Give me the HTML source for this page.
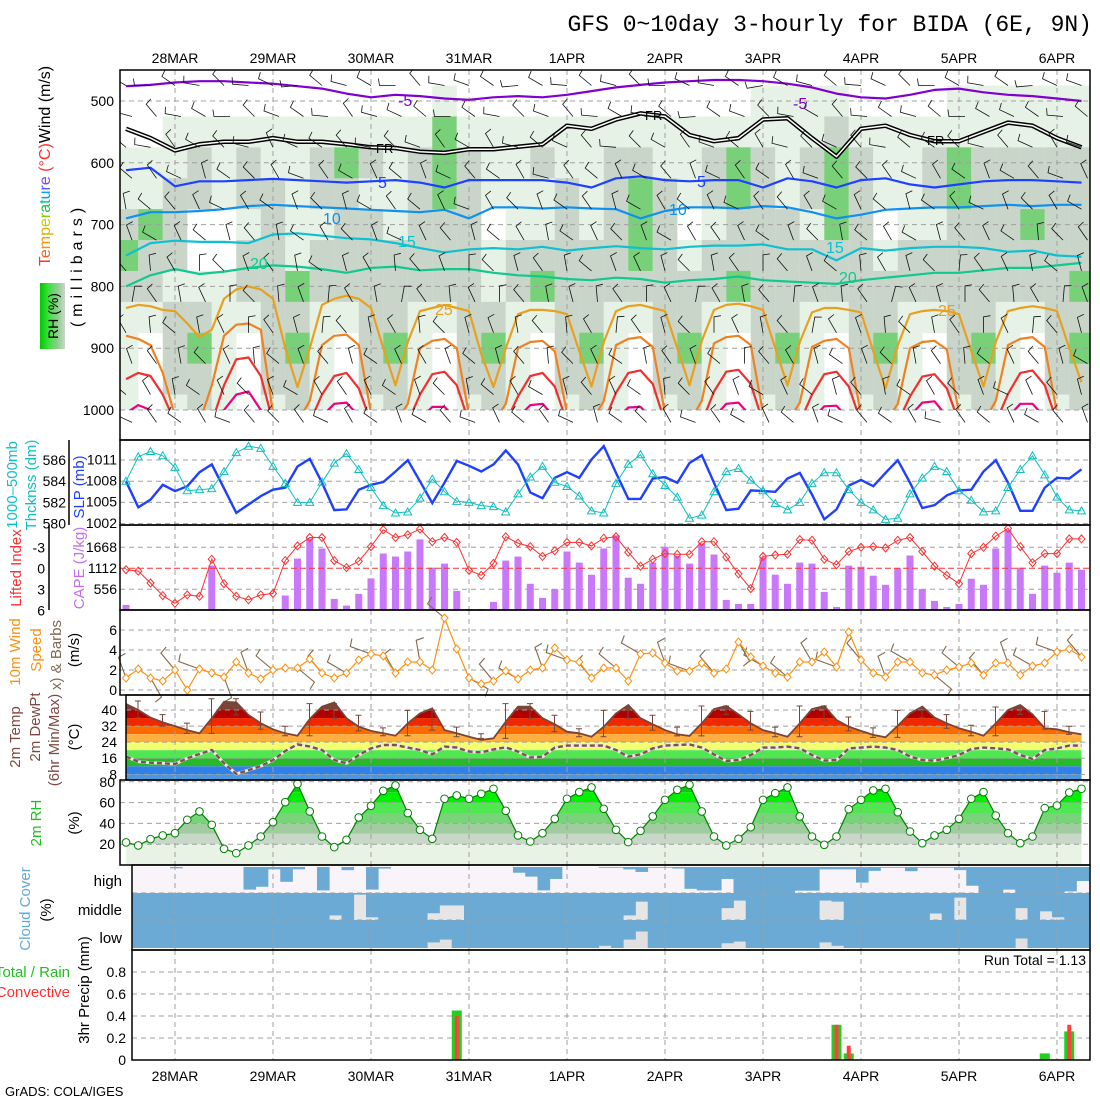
<!DOCTYPE html>
<html><head><meta charset="utf-8"><title>GFS meteogram BIDA</title>
<style>
html,body{margin:0;padding:0;background:#fff;}
svg{display:block;font-family:"Liberation Sans",sans-serif;}
</style></head>
<body>
<svg id="chart" xmlns="http://www.w3.org/2000/svg" width="1100" height="1100" viewBox="0 0 1100 1100">
<rect x="0" y="0" width="1100" height="1100" fill="#ffffff"/>
<defs>
<clipPath id="clipMain"><rect x="120" y="70" width="970" height="340"/></clipPath>
<clipPath id="clipMainAll"><rect x="120" y="70" width="970" height="370"/></clipPath>
<clipPath id="clipTemp"><polygon id="tempClipPoly" points=""/></clipPath>
<clipPath id="clipRH"><polygon id="rhClipPoly" points=""/></clipPath>
<clipPath id="clipCloud"><rect x="132" y="865" width="958" height="85"/></clipPath>
<linearGradient id="rhLegendGrad" x1="0" x2="1" y1="0" y2="0">
<stop offset="0" stop-color="#00c800"/><stop offset="0.35" stop-color="#40e040"/><stop offset="0.7" stop-color="#90cc90"/><stop offset="1" stop-color="#c8d8c8"/>
</linearGradient>
</defs>

<text x="1092" y="31" text-anchor="end" font-family="Liberation Mono, monospace" font-size="23" fill="#000">GFS 0~10day 3-hourly for BIDA (6E, 9N)</text>

<g id="topDates" font-size="14" fill="#000" text-anchor="middle"></g>
<g id="bottomDates" font-size="14" fill="#000" text-anchor="middle"></g>

<g id="rhField" clip-path="url(#clipMain)"></g>
<g id="mainGrid"></g>
<g id="isotherms" clip-path="url(#clipMain)"></g>
<g id="mainBarbs" clip-path="url(#clipMainAll)"></g>
<g id="isoLabels" font-size="16">
<text x="398" y="106" fill="#8000d0">-5</text>
<text x="793" y="109" fill="#8000d0">-5</text>
<text x="376" y="153" fill="#000" font-size="13">FR</text>
<text x="645" y="120" fill="#000" font-size="13">FR</text>
<text x="927" y="145" fill="#000" font-size="13">FR</text>
<text x="378" y="188" fill="#2040ff">5</text>
<text x="697" y="187" fill="#2040ff">5</text>
<text x="323" y="224" fill="#1090f0">10</text>
<text x="669" y="215" fill="#1090f0">10</text>
<text x="398" y="247" fill="#10c0d0">15</text>
<text x="826" y="253" fill="#10c0d0">15</text>
<text x="250" y="269" fill="#10c890">20</text>
<text x="839" y="283" fill="#10c890">20</text>
<text x="435" y="315" fill="#e8a020">25</text>
<text x="938" y="316" fill="#e8a020">25</text>
</g>

<g id="panels"></g>
<g id="frames" fill="none" stroke="#000" stroke-width="1.5"></g>

<g font-size="14" fill="#000" text-anchor="end" id="leftTicks"></g>

<text transform="rotate(-90 50 166)" x="50" y="166" text-anchor="middle" font-size="16"><tspan fill="#ff3030">T</tspan><tspan fill="#ff6020">e</tspan><tspan fill="#ff9000">m</tspan><tspan fill="#e0b000">p</tspan><tspan fill="#c0d000">e</tspan><tspan fill="#80d000">r</tspan><tspan fill="#20c040">a</tspan><tspan fill="#00c0a0">t</tspan><tspan fill="#00a0ff">u</tspan><tspan fill="#4060ff">r</tspan><tspan fill="#8040ff">e</tspan><tspan fill="#ff3030"> (°C)</tspan><tspan fill="#000">Wind (m/s)</tspan></text>
<text transform="rotate(-90 82 265)" x="82" y="265" text-anchor="middle" font-size="16" letter-spacing="5" fill="#000">(millibars)</text>
<rect x="40" y="283" width="25" height="66" fill="url(#rhLegendGrad)"/>
<text transform="rotate(-90 58 316)" x="58" y="316" text-anchor="middle" font-size="14" fill="#000">RH (%)</text>

<text transform="rotate(-90 17 485)" x="17" y="485" text-anchor="middle" font-size="15" fill="#10c0c0">1000–500mb</text>
<text transform="rotate(-90 36 485)" x="36" y="485" text-anchor="middle" font-size="15" fill="#10c0c0">Thcknss (dm)</text>
<text transform="rotate(-90 84 487)" x="84" y="487" text-anchor="middle" font-size="15" fill="#2040ff">SLP (mb)</text>
<text transform="rotate(-90 21 568)" x="21" y="568" text-anchor="middle" font-size="15" fill="#ff3030">Lifted Index</text>
<text transform="rotate(-90 84 568)" x="84" y="568" text-anchor="middle" font-size="15" fill="#c070f0">CAPE (J/kg)</text>
<text transform="rotate(-90 20 652)" x="20" y="652" text-anchor="middle" font-size="15" fill="#ff9010">10m Wind</text>
<text transform="rotate(-90 41 650)" x="41" y="650" text-anchor="middle" font-size="15" fill="#ff9010">Speed</text>
<text transform="rotate(-90 61 655)" x="61" y="655" text-anchor="middle" font-size="15" fill="#806850">x) &amp; Barbs</text>
<text transform="rotate(-90 79 650)" x="79" y="650" text-anchor="middle" font-size="15" fill="#000">(m/s)</text>
<text transform="rotate(-90 20 737)" x="20" y="737" text-anchor="middle" font-size="15" fill="#804840">2m Temp</text>
<text transform="rotate(-90 40 727)" x="40" y="727" text-anchor="middle" font-size="15" fill="#804840">2m DewPt</text>
<text transform="rotate(-90 59 740)" x="59" y="740" text-anchor="middle" font-size="15" fill="#804840">(6hr Min/Max)</text>
<text transform="rotate(-90 79 737)" x="79" y="737" text-anchor="middle" font-size="15" fill="#000">(°C)</text>
<text transform="rotate(-90 41 823)" x="41" y="823" text-anchor="middle" font-size="15" fill="#20c020">2m RH</text>
<text transform="rotate(-90 79 823)" x="79" y="823" text-anchor="middle" font-size="15" fill="#000">(%)</text>
<text transform="rotate(-90 30 909)" x="30" y="909" text-anchor="middle" font-size="15" fill="#60a8d8">Cloud Cover</text>
<text transform="rotate(-90 51 910)" x="51" y="910" text-anchor="middle" font-size="15" fill="#000">(%)</text>
<text x="122" y="886" text-anchor="end" font-size="15" fill="#000">high</text>
<text x="122" y="915" text-anchor="end" font-size="15" fill="#000">middle</text>
<text x="122" y="943" text-anchor="end" font-size="15" fill="#000">low</text>
<text transform="rotate(-90 89 990)" x="89" y="990" text-anchor="middle" font-size="15" fill="#000">3hr Precip (mm)</text>
<text x="70" y="977" text-anchor="end" font-size="15" fill="#20c020">Total / Rain</text>
<text x="70" y="997" text-anchor="end" font-size="15" fill="#ff3030">Convective</text>
<text x="1086" y="965" text-anchor="end" font-size="14" fill="#000">Run Total = 1.13</text>
<text x="5" y="1096" font-size="13" fill="#000">GrADS: COLA/IGES</text>
</svg>

<script>
const dayLabels = ["28MAR","29MAR","30MAR","31MAR","1APR","2APR","3APR","4APR","5APR","6APR"];
const thickness = [584.0,586.3,586.8,586.4,585.3,583.1,583.2,583.3,584.9,586.7,
587.3,587.1,585.4,583.8,582.0,582.0,583.9,585.7,586.6,585.1,
583.4,581.7,581.0,581.1,582.4,584.2,583.0,582.1,582.0,581.7,
581.6,581.1,582.8,584.4,585.4,583.9,583.5,582.6,581.2,581.0,
583.8,585.6,586.5,584.7,583.6,582.5,580.5,580.8,583.0,584.9,
585.2,584.1,583.1,581.9,581.3,582.0,583.8,584.8,584.8,583.2,
582.0,581.3,580.4,580.5,582.8,584.3,585.4,584.9,583.1,582.2,
581.1,581.2,583.4,585.1,586.4,584.6,582.5,581.3,581.2];
const slp = [1007.9,1004.2,1005.3,1007.4,1006.5,1007.2,1009.2,1010.3,1006.9,1003.4,
1004.6,1005.8,1006.7,1007.0,1010.0,1011.1,1007.7,1003.8,1003.9,1006.7,
1007.4,1007.8,1009.3,1010.9,1007.9,1004.8,1007.7,1010.8,1010.1,1009.3,
1010.3,1012.3,1010.3,1006.3,1005.5,1008.4,1009.2,1008.4,1011.0,1012.9,
1009.1,1005.4,1005.4,1008.3,1008.5,1007.7,1010.5,1011.6,1007.7,1003.8,
1004.0,1006.6,1006.5,1006.4,1008.3,1009.1,1006.0,1002.5,1003.9,1007.3,
1008.1,1007.2,1009.1,1010.9,1007.7,1004.1,1004.5,1005.9,1006.6,1006.7,
1009.3,1010.9,1007.7,1003.7,1003.7,1007.0,1008.4,1008.3,1009.6];
const liftedIndex = [0.2,0.4,2.1,3.9,5.0,3.8,4.0,-1.3,2.2,4.0,
4.5,3.8,3.6,-1.1,-3.2,-4.4,-4.4,-1.1,-0.1,-1.0,
-3.1,-5.5,-4.4,-4.8,-5.6,-3.8,-4.4,-3.7,0.3,1.0,
-0.7,-4.5,-3.6,-3.1,-1.7,-2.5,-3.7,-3.7,-3.2,-4.3,
-4.5,-2.3,-0.3,-1.3,-2.1,-2.0,-2.0,-3.8,-3.8,-1.6,
0.8,2.9,-1.7,-1.9,-2.0,-4.1,-4.0,-1.3,-0.5,-2.4,
-3.0,-3.1,-2.9,-4.0,-4.4,-2.4,-0.3,1.0,2.2,-2.1,
-3.0,-4.6,-5.7,-3.1,-0.8,-2.1,-2.1,-4.2,-4.2];
const cape = [133,0,0,0,0,25,0,1175,25,0,
0,0,25,383,1362,1896,1629,294,116,427,
837,1495,1415,1549,1869,1121,1228,507,25,25,
214,1308,1415,694,320,552,1549,1255,935,1629,
1976,854,694,1255,1673,1442,1228,1762,1469,267,
160,160,1397,935,694,1255,1228,480,80,1175,
1148,908,668,1104,1442,552,240,80,160,828,
668,1629,2118,1121,427,1175,988,1255,1068];
const windSpeed = [1.2,2.1,1.2,0.9,2.0,0,2.1,1.7,1.3,2.8,
1.7,1.1,2.0,2.2,2.2,3.1,1.7,1.2,1.7,3.0,
3.6,3.4,1.7,2.8,2.8,2.0,7.2,4.1,1.2,0.6,
0.9,1.9,1.1,2.0,2.2,4.2,3.0,2.8,1.2,2.2,
2.2,0.9,3.6,3.7,2.7,1.9,1.9,2.7,1.7,2.1,
4.8,3.3,2.4,1.7,1.3,2.8,2.8,3.8,2.3,5.8,
3.0,1.7,1.3,2.8,2.8,1.7,1.5,2.0,2.3,2.7,
1.5,2.7,2.7,1.5,2.4,2.7,3.8,4.1,3.3];
const windDir10 = [250,60,230,200,70,250,220,40,230,210,
200,240,260,220,30,230,210,250,200,230,
220,210,250,200,230,60,210,220,240,200,
230,250,210,40,220,230,250,210,200,230];
const temp2m = [43.0,40,36.2,33.9,32.0,30,28.4,35.9,44.1,43.8,
37.5,33.4,30.4,28.4,27.2,35.5,41.7,43.8,35.9,31.7,
29.6,28.4,27.2,33.4,38.3,40.8,30,28.4,26.7,25.1,
25.9,34.2,41.7,41.7,35.9,32.9,29.2,28.4,26.7,31.7,
38.3,42.5,35.9,32.9,30,27.9,27.1,33.4,40.5,42.0,
37.8,33.4,30,28.4,26.7,33.4,40.5,42,35,31.7,
29.6,27.6,26.4,32.2,38.3,41.7,36.2,33.4,30.9,29.2,
27.2,33.4,40,42.5,37.8,30.9,30.4,28.9,27.9];
const dew2m = [16.8,14.3,13.8,13.5,13.1,16,18.1,20.1,13.5,8.2,
10.1,12.1,15.1,19.6,22.9,21.8,20.1,15.1,13.5,17.6,
20.9,22.6,22.6,21.3,20.1,17.9,21.8,21.3,19.3,18.9,
20.4,21.4,19.3,16.3,16.8,21.3,22.3,22.3,22.3,22.3,
20.1,16.8,17.9,20.9,22.3,22.6,22.9,21.3,17.9,14.6,
15.1,17.6,21.3,21.3,21.8,20.9,17.6,14.8,15.1,20.9,
21.3,21.8,21.3,20.1,16.8,15.1,14.8,16,17.6,20.6,
21.3,20.9,20.4,17.6,15.6,20.1,20.9,22.3,22.3];
const rh2m = [21.7,18.8,24.9,28.4,30.6,43.5,51.5,38.7,15.6,11.4,
18.8,27.4,41.2,60.4,78,51.5,27.4,17.2,24.2,45.7,
56.9,71.3,76.5,49.9,33.8,25.2,63.7,66.9,63.7,68.5,
73.3,52.1,28.4,22.6,30.6,44.4,63.7,70.1,74.6,54,
33.8,22,32.9,46.7,62.7,72.3,77.1,51.5,27.4,18.8,
25.2,36.4,62.7,69.1,74.6,46.7,27.4,19.4,27.4,53.7,
62.7,71.7,73.3,50.8,32.2,21,28.4,33.8,44.4,63.7,
70.1,47.6,30.6,21,27.4,54.7,57.2,69.7,73.3];
const cloudHigh = [0,0,0,0,5,0,0,0,0,0,
87,76,9,57,9,0,90,0,12,0,
87,6,0,0,0,0,0,0,0,0,
0,0,22,37,90,46,0,0,0,3,
3,9,19,3,3,6,84,90,90,46,
100,100,100,100,100,91,91,9,9,9,
60,15,3,3,16,3,3,3,12,72,
100,100,87,100,100,100,100,94,54];
const cloudMid = [100,100,100,100,100,100,100,100,100,100,
100,100,100,100,100,100,100,83,100,6,
90,100,100,100,100,75,46,46,100,100,
100,100,100,100,100,100,100,100,100,100,
100,83,32,100,100,100,100,100,100,56,
28,100,100,100,100,100,100,28,32,100,
100,100,100,100,100,100,76,100,17,100,
100,100,100,56,100,68,90,100,100];
const cloudLow = [100,100,100,100,100,100,100,100,100,100,
100,100,100,100,100,100,100,100,100,100,
100,100,100,100,100,80,70,100,100,100,
100,100,100,100,100,100,100,100,100,92,
100,70,41,100,100,100,100,100,100,83,
77,100,100,100,100,100,100,80,92,100,
100,100,100,100,100,100,100,100,100,100,
100,100,100,66,100,100,100,100,100];
const precipTotal = [0,0,0,0,0,0,0,0,0,0, 0,0,0,0,0,0,0,0,0,0, 0,0,0,0,0,0,0,0.45,0,0,
0,0,0,0,0,0,0,0,0,0, 0,0,0,0,0,0,0,0,0,0, 0,0,0,0,0,0,0,0,0.32,0.06,
0,0,0,0,0,0,0,0,0,0, 0,0,0,0,0,0.06,0,0.26,0];
const precipConv = [0,0,0,0,0,0,0,0,0,0, 0,0,0,0,0,0,0,0,0,0, 0,0,0,0,0,0,0,0.40,0,0,
0,0,0,0,0,0,0,0,0,0, 0,0,0,0,0,0,0,0,0,0, 0,0,0,0,0,0,0,0,0.32,0.13,
0,0,0,0,0,0,0,0,0,0, 0,0,0,0,0,0,0,0.32,0];

const iso25 = [835,830,832,838, 840,860,882,870,820,805,800,805, 820,900,963,900,830,820,815,820,
835,900,960,890,840,835,830,835, 840,910,963,900,845,838,838,840, 845,905,962,890,840,832,830,835,
840,900,960,888,838,830,828,832, 838,900,960,890,842,835,835,838, 842,905,965,895,845,840,838,840,
845,905,962,890,840,835,832,835, 840,900,955];
const iso30 = [880,885,895,940, 1010,1020,1020,960,880,862,860,870, 1005,1020,1020,985,895,880,878,895,
1005,1020,1020,990,900,888,885,900, 1008,1020,1020,990,900,890,888,905, 1005,1020,1020,985,895,885,882,898,
1005,1020,1020,985,892,882,880,895, 1005,1020,1020,988,898,888,885,900, 1008,1020,1020,990,900,890,888,902,
1005,1020,1020,985,895,885,882,898, 1005,1020,1020];
const iso35 = [950,940,945,975, 1020,1020,1020,1020,960,918,915,945, 1020,1020,1020,1020,975,945,940,965,
1020,1020,1020,1020,975,942,938,960, 1020,1020,1020,1020,978,945,940,962, 1020,1020,1020,1020,972,940,936,958,
1020,1020,1020,1020,970,938,935,958, 1020,1020,1020,1020,975,942,938,962, 1020,1020,1020,1020,978,946,942,965,
1020,1020,1020,1020,974,940,936,960, 1020,1020,1020];
const iso40 = [1005,992,1000,1020, 1020,1020,1020,1020,1000,975,970,1000, 1020,1020,1020,1020,1010,990,988,1010,
1020,1020,1020,1020,1015,995,995,1015, 1020,1020,1020,1020,1012,992,990,1012, 1020,1020,1020,1020,1015,996,995,1015,
1020,1020,1020,1020,1012,990,988,1010, 1020,1020,1020,1020,1015,994,993,1015, 1020,1020,1020,1020,1010,988,986,1010,
1020,1020,1020,1020,1012,990,990,1012, 1020,1020,1020];
const isoM5 = [476,474,470,468,468,470,472,476,480,488,494,490,492,496,498,494,492,494,490,484,478,474,470,468,466,466,468,472,478,488,494,496,490,482,480,486,490,492,496,500];
const iso0 = [545,560,580,570,566,566,560,566,566,570,575,576,582,584,578,578,574,570,540,545,530,520,525,555,565,560,530,528,560,590,545,540,555,565,565,550,535,540,560,575];
const iso5 = [612,608,638,630,630,628,626,628,630,632,630,628,632,640,628,628,628,628,632,640,625,622,628,630,628,628,640,625,630,640,628,625,635,640,635,630,628,628,630,632];
const iso10 = [690,680,680,678,675,670,668,670,672,674,676,678,680,676,690,672,672,674,672,674,675,690,678,672,672,674,670,672,680,690,684,676,674,672,672,670,668,670,668,668];
const iso15 = [750,730,726,728,728,730,716,714,718,722,724,730,738,745,740,738,740,736,742,738,735,738,740,736,734,734,732,740,740,758,738,742,738,736,736,738,744,742,750,752];
const iso20 = [800,782,772,780,776,770,766,768,772,778,770,768,774,772,772,778,782,784,788,790,786,788,794,790,788,784,790,792,794,796,790,786,782,778,778,774,770,770,766,762];
const rhLevels = [500,550,600,650,700,750,800,850,900,950,1000];
const rhRows = [
"0000000000000100000000000011110000111111",
"0011111111111311111111111111121111111111",
"1112121123212321121122112321232112322222",
"1122122122112321112123212321232112322222",
"2320012112212220112123201222132011222322",
"3220022122222221222223212222222122222222",
"2211122322222221232222222322222222222223",
"1122112211221122112211221122112211221122",
"1023102310231023102310231023102310231023",
"1022102210221022102210221022102210221022",
"1012101210121012101210121012101210121012"];
const barbLevels = [475,525,575,625,675,725,775,825,875,925,975,1020];
const barbLevelDir = [200,205,215,225,230,235,245,255,250,240,235,225];
const barbColOffset = [10,-20,15,-10,25,-15,5,-25,20,-5,10,-20,30,-10,0,15,-25,10,-15,20,-5,25,-20,5,-10,15,-30,10,-5,20,-15,5,25,-20,10,-10,15,-25,5,0];

const NS = 'http://www.w3.org/2000/svg';
const svg = document.getElementById('chart');
function mk(tag, attrs, parent){ const e=document.createElementNS(NS,tag); for(const k in attrs) e.setAttribute(k,attrs[k]); (parent||svg).appendChild(e); return e; }
const xi = i => 126 + 12.25*i;
const xj = j => 126 + 24.5*j;
const dayX = d => 175 + 98*d;
const yP = p => 101 + (p-500)*0.618;
const yThk = v => 460 + (586-v)*10.6;
const ySlp = v => 459.5 + (1011-v)*7.03;
const yLI = v => 568.3 + v*7;
const yCape = v => 610 - v*0.03777;
const yWind = v => 690 - v*10;
const yTemp = v => 710 + (40-v)*2.01;
const yRH = v => 865 - v*1.04;
const yPr = v => 1060 - v*110;
const Xmin=120, Xmax=1090;

const topG=document.getElementById('topDates'), botG=document.getElementById('bottomDates');
dayLabels.forEach((lab,d)=>{
  const t1=mk('text',{x:dayX(d),y:63},topG); t1.textContent=lab;
  
  
  const t2=mk('text',{x:dayX(d),y:1081},botG); t2.textContent=lab;
  
  
});

const rhColors=['none','#e6f2e6','#c8d5c8','#78d078','#00e400'];
const rhG=document.getElementById('rhField');
rhRows.forEach((row,r)=>{
  const p=rhLevels[r];
  const pt = r===0 ? 475 : p-25, pb = Math.min(p+25,1000);
  for(let j=0;j<row.length;j++){
    const c=+row[j]; if(!c) continue;
    const el=mk('rect',{x:xj(j)-12.25,y:yP(pt),width:24.6,height:yP(pb)-yP(pt)+0.4,fill:rhColors[c]},rhG);
    
    
  }
});

const mg=document.getElementById('mainGrid');
[500,600,700,800,900,1000].forEach(p=>{
  const l=mk('line',{x1:Xmin,x2:Xmax,y1:yP(p),y2:yP(p),stroke:'#a0a0a0','stroke-dasharray':'5,4'},mg);
  
  
});
function vGrid(y1,y2,parent){
  dayLabels.forEach((lab,d)=>{
    const l=mk('line',{x1:dayX(d),x2:dayX(d),y1:y1,y2:y2,stroke:'#a0a0a0','stroke-dasharray':'5,4'},parent);
    
    
  });
}
vGrid(70,440,mg);

const isoG=document.getElementById('isotherms');
function isoLine(arr, xf, color, w, name){
  const pts=arr.map((p,k)=>xf(k).toFixed(1)+','+yP(p).toFixed(1)).join(' ');
  const el=mk('polyline',{points:pts,fill:'none',stroke:color,'stroke-width':w,'stroke-linejoin':'round'},isoG);
  
  
  return pts;
}
isoLine(isoM5,xj,'#8000d0',2.2,'isotherm-minus5');
const frPts=isoLine(iso0,xj,'#000',4.5,'isotherm-freezing');
const frInner=mk('polyline',{points:frPts,fill:'none',stroke:'#fff','stroke-width':1.5},isoG);


isoLine(iso5,xj,'#2040ff',2.2,'isotherm-5');
isoLine(iso10,xj,'#1090f0',2.2,'isotherm-10');
isoLine(iso15,xj,'#10c0d0',2.2,'isotherm-15');
isoLine(iso20,xj,'#10c890',2.2,'isotherm-20');
isoLine(iso25,xi,'#e8a020',2.2,'isotherm-25');
isoLine(iso30,xi,'#f08020',2.2,'isotherm-30');
isoLine(iso35,xi,'#f03030',2.2,'isotherm-35');
isoLine(iso40,xi,'#f00080',2.2,'isotherm-40');

const bG=document.getElementById('mainBarbs');
barbLevels.forEach((p,r)=>{
  for(let j=0;j<40;j++){
    const x0=xj(j)+((r%2)?6:0), y0=yP(p);
    const a=(barbLevelDir[r]+barbColOffset[(j+r*3)%40])*Math.PI/180;
    const x1=x0+16*Math.cos(a), y1=y0+16*Math.sin(a);
    const b=a+Math.PI*0.45;
    const x2=x1+7*Math.cos(b), y2=y1+7*Math.sin(b);
    const el=mk('polyline',{points:`${x0.toFixed(1)},${y0.toFixed(1)} ${x1.toFixed(1)},${y1.toFixed(1)} ${x2.toFixed(1)},${y2.toFixed(1)}`,fill:'none',stroke:'#111','stroke-width':0.8},bG);
    
    
  }
});

const P=document.getElementById('panels');
function hGrid(y,x1,parent,color,dash){
  const l=mk('line',{x1:x1,x2:Xmax,y1:y,y2:y,stroke:color||'#a0a0a0','stroke-dasharray':dash||'5,4'},parent);
  
  
}
function polyPts(arr,yf){ return arr.map((v,i)=>xi(i).toFixed(1)+','+yf(v).toFixed(1)).join(' '); }

const g2=mk('g',{},P);


[586,584,582,580].forEach(v=>hGrid(yThk(v),120,g2));
vGrid(440,525,g2);
const slpLine=mk('polyline',{points:polyPts(slp,ySlp),fill:'none',stroke:'#2040ff','stroke-width':2.4},g2);


const thkLine=mk('polyline',{points:polyPts(thickness,yThk),fill:'none',stroke:'#10c0c0','stroke-width':1},g2);


thickness.forEach((v,i)=>{
  const x=xi(i), y=yThk(v);
  const m=mk('path',{d:`M${x},${y-4}L${x+4},${y+3}L${x-4},${y+3}Z`,fill:'none',stroke:'#10c0c0','stroke-width':1},g2);
  
  
});

const g3=mk('g',{},P);


[-3,3].forEach(v=>hGrid(yLI(v),120,g3));
vGrid(525,610,g3);
cape.forEach((v,i)=>{
  if(v<=0) return;
  const b=mk('rect',{x:xi(i)-3.5,y:yCape(v),width:7,height:610-yCape(v),fill:'#c878f8'},g3);
  
  
});
hGrid(yLI(0),120,g3,'#ff3030','6,3');
const liLine=mk('polyline',{points:polyPts(liftedIndex,yLI),fill:'none',stroke:'#ff3030','stroke-width':1},g3);


liftedIndex.forEach((v,i)=>{
  const x=xi(i), y=yLI(v);
  const m=mk('path',{d:`M${x},${y-4}L${x+3.5},${y}L${x},${y+4}L${x-3.5},${y}Z`,fill:'none',stroke:'#ff3030','stroke-width':1},g3);
  
  
});

const g4=mk('g',{},P);


[6,4,2,0].forEach(v=>hGrid(yWind(v),120,g4));
vGrid(610,695,g4);
windDir10.forEach((d,j)=>{
  const i=j*2, x0=xi(i), y0=yWind(windSpeed[i]);
  const a=d*Math.PI/180;
  const x1=x0+22*Math.cos(a), y1=y0+22*Math.sin(a);
  const b=a+Math.PI*0.45;
  const el=mk('polyline',{points:`${x0.toFixed(1)},${y0.toFixed(1)} ${x1.toFixed(1)},${y1.toFixed(1)} ${(x1+8*Math.cos(b)).toFixed(1)},${(y1+8*Math.sin(b)).toFixed(1)}`,fill:'none',stroke:'#806850','stroke-width':1.1},g4);
  
  
});
const wl=mk('polyline',{points:polyPts(windSpeed,yWind),fill:'none',stroke:'#ff9010','stroke-width':1.2},g4);


windSpeed.forEach((v,i)=>{
  const x=xi(i), y=yWind(v);
  const m=mk('path',{d:`M${x},${y-4}L${x+3.5},${y}L${x},${y+4}L${x-3.5},${y}Z`,fill:'#fff',stroke:'#ff9010','stroke-width':1},g4);
  
  
});

const g5=mk('g',{},P);


const tPts=polyPts(temp2m,yTemp);
document.getElementById('tempClipPoly').setAttribute('points', `${xi(0)},780 ${tPts} ${xi(temp2m.length-1)},780`);
const tBands=[[40,50,'#7a4538'],[36,40,'#b00000'],[32,36,'#f02800'],[28,32,'#ff6a00'],[24,28,'#ffae40'],[20,24,'#f4ff70'],[16,20,'#50e850'],[12,16,'#28b828'],[8,12,'#3080e8'],[0,8,'#4898e0']];
const tBandG=mk('g',{'clip-path':'url(#clipTemp)'},g5);


tBands.forEach(b=>{
  const y1=Math.max(695,yTemp(b[1])), y2=Math.min(780,yTemp(b[0]));
  const r=mk('rect',{x:120,y:y1,width:970,height:y2-y1,fill:b[2]},tBandG);
  
  
});
[40,32,24,16,8].forEach(v=>hGrid(yTemp(v),126,g5));
vGrid(695,780,g5);
const tl=mk('polyline',{points:tPts,fill:'none',stroke:'#7a4538','stroke-width':1.8},g5);


for(let i=0;i+2<temp2m.length;i+=2){
  const lo=Math.min(temp2m[i],temp2m[i+2]), hi=Math.max(temp2m[i],temp2m[i+2]);
  const x=xi(i)+12;
  const e=mk('path',{d:`M${x},${yTemp(hi+1.5)}V${yTemp(lo)}M${x-3},${yTemp(hi+1.5)}H${x+3}M${x-3},${yTemp(lo)}H${x+3}`,stroke:'#7a4538','stroke-width':1,fill:'none'},g5);
  
  
}
const dPts=polyPts(dew2m,yTemp);
const dh=mk('polyline',{points:dPts,fill:'none',stroke:'#e8e8e8','stroke-width':3},g5);


const dl=mk('polyline',{points:dPts,fill:'none',stroke:'#805050','stroke-width':2.4,'stroke-dasharray':'5,3'},g5);



const g6=mk('g',{},P);


const rPts=polyPts(rh2m,yRH);
document.getElementById('rhClipPoly').setAttribute('points', `${xi(0)},865 ${rPts} ${xi(rh2m.length-1)},865`);
const rBands=[[0,20,'#e8f3e6'],[20,30,'#c8d8c8'],[30,40,'#a0cca0'],[40,50,'#78d478'],[50,60,'#50e850'],[60,70,'#00f000'],[70,100,'#10c810']];
const rBandG=mk('g',{'clip-path':'url(#clipRH)'},g6);


rBands.forEach(b=>{
  const y1=Math.max(780,yRH(b[1])), y2=yRH(b[0]);
  const r=mk('rect',{x:120,y:y1,width:970,height:y2-y1,fill:b[2]},rBandG);
  
  
});
[80,60,40,20].forEach(v=>hGrid(yRH(v),120,g6));
vGrid(780,865,g6);
const rl=mk('polyline',{points:rPts,fill:'none',stroke:'#008000','stroke-width':1.2},g6);


rh2m.forEach((v,i)=>{
  const c=mk('circle',{cx:xi(i),cy:yRH(v),r:3.8,fill:'#fff',stroke:'#008000','stroke-width':1},g6);
  
  
});

const g7=mk('g',{'clip-path':'url(#clipCloud)'},P);


const layers=[[cloudHigh,867,26,'#f8f4fa','high'],[cloudMid,893,27,'#e6e6e6','middle'],[cloudLow,920,28,'#e0e0e0','low']];
layers.forEach(L=>{
  const bg=mk('rect',{x:132,y:L[1],width:958,height:L[2],fill:L[3]},g7);
  
  
  L[0].forEach((v,i)=>{
    if(v<=0) return;
    const r=mk('rect',{x:xi(i)-5,y:L[1],width:12.6,height:L[2]*v/100,fill:'#6aaad4'},g7);
    
    
  });
});
const g7b=mk('g',{},P);


hGrid(893,132,g7b); hGrid(920,132,g7b);
vGrid(865,950,g7b);

const g8=mk('g',{},P);


[0.8,0.6,0.4,0.2].forEach(v=>hGrid(yPr(v),132,g8));
vGrid(950,1060,g8);
precipTotal.forEach((v,i)=>{
  if(v>0){
    const r=mk('rect',{x:xi(i)-5,y:yPr(v),width:10,height:1060-yPr(v),fill:'#20d020'},g8);
    
    
  }
  const c=precipConv[i];
  if(c>0){
    const r=mk('rect',{x:xi(i)-2,y:yPr(c),width:4,height:1060-yPr(c),fill:'#ff4040'},g8);
    
    
  }
});

const F=document.getElementById('frames');
[[120,70,440],[120,440,525],[120,525,610],[120,610,695],[126,695,780],[120,780,865],[132,865,950],[132,950,1060]].forEach(f=>{
  const r=mk('rect',{x:f[0],y:f[1],width:Xmax-f[0],height:f[2]-f[1]},F);
  
  
});
const ax1=mk('line',{x1:69,x2:69,y1:440,y2:525},F);


const ax2=mk('line',{x1:49,x2:49,y1:525,y2:610},F);



const T=document.getElementById('leftTicks');
function tick(x,y,txt,name){
  const t=mk('text',{x:x,y:y+5},T); t.textContent=txt;
  
  
}
[500,600,700,800,900,1000].forEach(p=>tick(114,yP(p),String(p),'pressure-tick'));
[586,584,582,580].forEach(v=>tick(66,yThk(v),String(v),'thickness-tick'));
[1011,1008,1005,1002].forEach(v=>tick(117,ySlp(v),String(v),'slp-tick'));
[-3,0,3,6].forEach(v=>tick(45,yLI(v),String(v),'li-tick'));
[1668,1112,556].forEach(v=>tick(117,yCape(v),String(v),'cape-tick'));
[6,4,2,0].forEach(v=>tick(117,yWind(v),String(v),'wind-tick'));
[40,32,24,16,8].forEach(v=>tick(117,yTemp(v),String(v),'temp-tick'));
[80,60,40,20].forEach(v=>tick(115,yRH(v),String(v),'rh-tick'));
[0.8,0.6,0.4,0.2,0].forEach(v=>tick(126,yPr(v),String(v),'precip-tick'));
</script>
</body></html>
